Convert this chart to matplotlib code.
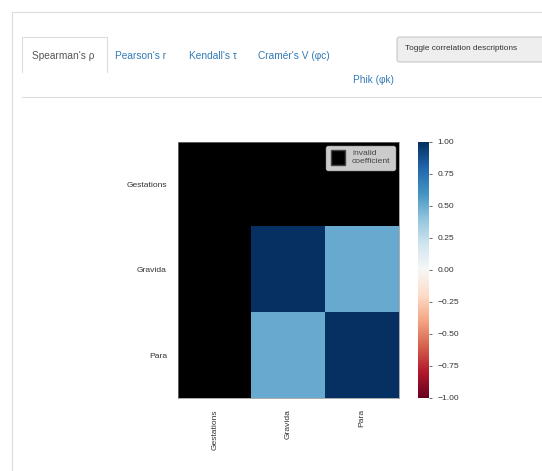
import numpy as np
import matplotlib
matplotlib.use('Agg')
import matplotlib.pyplot as plt
from matplotlib.patches import FancyBboxPatch, Patch
from matplotlib.lines import Line2D

plt.rcParams['font.family'] = ['Liberation Sans', 'DejaVu Sans']

# data
columns = ['Gestations', 'Gravida', 'Para']
corr = np.array([
    [np.nan, np.nan, np.nan],
    [np.nan, 1.0, 0.5],
    [np.nan, 0.5, 1.0],
])
tabs = ["Spearman's ρ", "Pearson's r", "Kendall's τ", "Cramér's V (φc)"]
tab_x = [63, 141, 213, 294]
cbar_ticks = [-1.0, -0.75, -0.5, -0.25, 0.0, 0.25, 0.5, 0.75, 1.0]

W, H = 542, 471
fig = plt.figure(figsize=(W / 100, H / 100), dpi=100)


def fx(x):
    return x / W


def fy(y):
    return 1 - y / H


# page frame
border = '#dddddd'
fig.add_artist(Line2D([fx(12), fx(12)], [fy(12), fy(471)], color=border, lw=0.8))
fig.add_artist(Line2D([fx(12), 1], [fy(12), fy(12)], color=border, lw=0.8))

# tab bar
fig.add_artist(Line2D([fx(22), 1], [fy(97), fy(97)], color=border, lw=0.8))
fig.add_artist(Line2D([fx(22), fx(22), fx(107), fx(107)],
                      [fy(72), fy(37), fy(37), fy(72)], color=border, lw=0.8))
for i, (name, x) in enumerate(zip(tabs, tab_x)):
    fig.text(fx(x), fy(56), name, ha='center', va='center', fontsize=7.3,
             color='#555555' if i == 0 else '#337ab7')
fig.text(fx(373), fy(80), 'Phik (φk)', ha='center', va='center', fontsize=7.3, color='#337ab7')

# button
btn = FancyBboxPatch((fx(397), fy(62)), fx(160), fy(37) - fy(62),
                     boxstyle='round,pad=0,rounding_size=0.005',
                     transform=fig.transFigure, facecolor='#eeeeee',
                     edgecolor='#c8c8c8', lw=0.8)
fig.add_artist(btn)
fig.text(fx(461), fy(49), 'Toggle correlation descriptions', ha='center', va='center',
         fontsize=5.95, color='#333333')

# heatmap
ax = fig.add_axes([fx(178), fy(398), fx(399) - fx(178), fy(142) - fy(398)])
cmap = plt.get_cmap('RdBu').copy()
cmap.set_bad('black')
im = ax.imshow(np.ma.masked_invalid(corr), cmap=cmap, vmin=-1, vmax=1, aspect='auto')
ax.set_xticks(range(len(columns)))
ax.set_yticks(range(len(columns)))
ax.set_xticklabels(columns, rotation=90, fontsize=6.1, color='#333333')
ax.set_yticklabels(columns, fontsize=6.1, color='#333333')
ax.tick_params(length=0, pad=8)
for s in ax.spines.values():
    s.set_color('#888888')
    s.set_linewidth(0.5)
leg = ax.legend(handles=[Patch(facecolor='black', edgecolor='#444444', label='invalid\ncoefficient')],
                loc='upper right', fontsize=6.1, handlelength=1.7, handleheight=2.3,
                borderpad=0.55, handletextpad=0.8, borderaxespad=0.45, framealpha=0.8)
for t in leg.get_texts():
    t.set_color('#444444')

# colorbar
cax = fig.add_axes([fx(418), fy(398), fx(429) - fx(418), fy(142) - fy(398)])
cb = fig.colorbar(im, cax=cax, ticks=cbar_ticks)
cb.ax.set_yticklabels([f'{t:.2f}'.replace('-', '\u2212') for t in cbar_ticks])
cb.ax.tick_params(labelsize=6.1, length=2, width=0.5, colors='#333333', pad=4)
cb.outline.set_visible(False)

fig.savefig('out.png', dpi=100)
